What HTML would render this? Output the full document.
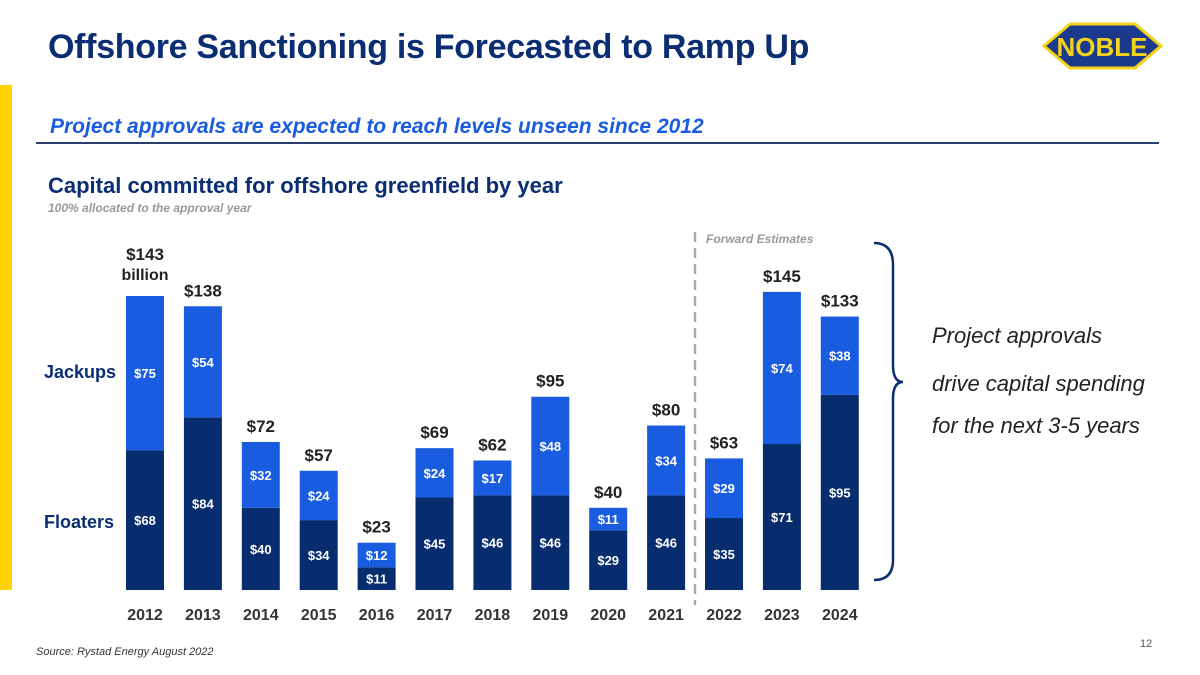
<!DOCTYPE html>
<html><head><meta charset="utf-8">
<style>
body{margin:0;width:1200px;height:675px;background:#fff;font-family:"Liberation Sans",Arial,sans-serif;position:relative;overflow:hidden}
.t{position:absolute;white-space:nowrap}
</style></head>
<body>
<div style="position:absolute;left:0;top:85px;width:12px;height:505px;background:#FFD200"></div>
<div class="t" style="left:48px;top:28px;font-size:34px;font-weight:bold;color:#0B2D72;letter-spacing:-0.3px">Offshore Sanctioning is Forecasted to Ramp Up</div>
<svg style="position:absolute;left:1040px;top:20px" width="125" height="52" viewBox="0 0 125 52">
<polygon points="4,26 30,4 95,4 121,26 95,48 30,48" fill="#1B3A8C" stroke="#F3D21A" stroke-width="3"/>
<text x="62" y="36" text-anchor="middle" font-family="Liberation Sans" font-weight="bold" font-size="26" fill="#F3D21A">NOBLE</text></svg>
<div class="t" style="left:50px;top:115px;font-size:21px;font-weight:bold;font-style:italic;color:#1A5CE0">Project approvals are expected to reach levels unseen since 2012</div>
<div style="position:absolute;left:36px;top:142px;width:1123px;height:2px;background:#2B3E6E"></div>
<div class="t" style="left:48px;top:173px;font-size:22px;font-weight:bold;color:#0B2D72">Capital committed for offshore greenfield by year</div>
<div class="t" style="left:48px;top:201px;font-size:12px;font-style:italic;font-weight:bold;color:#999">100% allocated to the approval year</div>
<div class="t" style="left:36px;top:646px;font-size:11px;font-style:italic;color:#333">Source: Rystad Energy August 2022</div>
<div class="t" style="left:1140px;top:638px;font-size:11px;color:#555">12</div>
<svg id="chart" style="position:absolute;left:0;top:0" width="1200" height="675"></svg>
<script>
const years=["2012","2013","2014","2015","2016","2017","2018","2019","2020","2021","2022","2023","2024"];
const floaters=[68,84,40,34,11,45,46,46,29,46,35,71,95];
const jackups=[75,54,32,24,12,24,17,48,11,34,29,74,38];
const totals=[143,138,72,57,23,69,62,95,40,80,63,145,133];
const svg=document.getElementById('chart');
const NS='http://www.w3.org/2000/svg';
const base=590,k=2.056,x0=145,step=57.9,bw=38;
const X=i=>x0+i*step, Y=v=>base-v*k;
function el(tag,a){const e=document.createElementNS(NS,tag);for(const n in a)e.setAttribute(n,a[n]);svg.appendChild(e);return e;}
function txt(x,y,s,size,col,name){const e=el('text',{x:x,y:y,'text-anchor':'middle','font-size':size,'font-weight':'bold',fill:col,'font-family':'Liberation Sans'});e.textContent=s;

return e;}
years.forEach((yr,i)=>{
 const f=floaters[i],j=jackups[i],x=X(i);
 const r1=el('rect',{x:x-bw/2,y:Y(f),width:bw,height:f*k,fill:'#072D6E'});
 
 
 const r2=el('rect',{x:x-bw/2,y:Y(f+j),width:bw,height:j*k,fill:'#1A5CE0'});
 
 
 txt(x,Y(f/2)+5,'$'+f,13,'#fff','label-floaters-'+yr);
 txt(x,Y(f+j/2)+5,'$'+j,13,'#fff','label-jackups-'+yr);
 txt(x,Y(f+j)-(i===0?36:10),'$'+totals[i],17,'#222','label-total-'+yr);
 txt(x,620,yr,16,'#333','x-label-'+yr);
});
const dl=el('line',{x1:695,y1:232,x2:695,y2:605,stroke:'#aaa','stroke-width':2.5,'stroke-dasharray':'10,6'});


const fe=el('text',{x:706,y:243,'font-size':12,'font-style':'italic','font-weight':'bold',fill:'#999','font-family':'Liberation Sans'});fe.textContent='Forward Estimates';


txt(145,280,'billion',16,'#222','billion-label');
const jl=el('text',{x:44,y:378,'font-size':18,'font-weight':'bold',fill:'#0B2D72','font-family':'Liberation Sans'});jl.textContent='Jackups';


const fl=el('text',{x:44,y:528,'font-size':18,'font-weight':'bold',fill:'#0B2D72','font-family':'Liberation Sans'});fl.textContent='Floaters';


const br=el('path',{d:'M874,243 Q893,243 893,265 L893,365 Q893,382 903,382 Q893,382 893,399 L893,560 Q893,580 874,580',fill:'none',stroke:'#0B2D72','stroke-width':2.5});


[['Project approvals',343],['drive capital spending',391],['for the next 3-5 years',433]].forEach((a,i)=>{
 const t=el('text',{x:932,y:a[1],'font-size':22,'font-style':'italic',fill:'#222','font-family':'Liberation Sans'});t.textContent=a[0];
 
 
});
</script>
</body></html>
